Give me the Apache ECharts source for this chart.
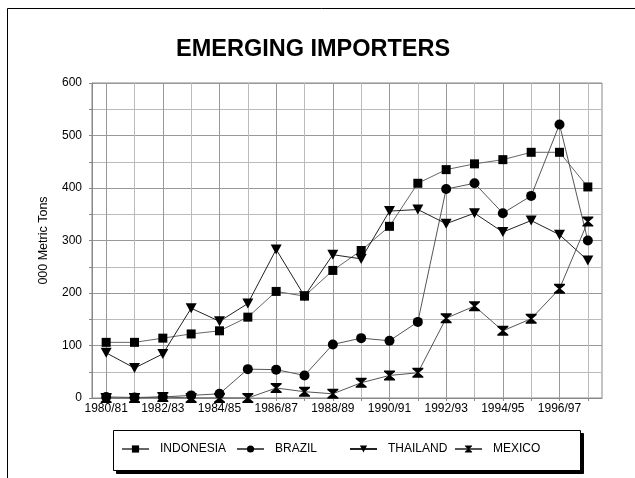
<!DOCTYPE html>
<html>
<head>
<meta charset="utf-8">
<script src="https://cdn.jsdelivr.net/npm/echarts@6/dist/echarts.min.js"></script>
<style>
html,body{margin:0;padding:0;background:#fff;}
#chart{width:635px;height:478px;}
</style>
</head>
<body>
<div id="chart"></div>
<script>
var categories = ['1980/81','1981/82','1982/83','1983/84','1984/85','1985/86','1986/87','1987/88','1988/89','1989/90','1990/91','1991/92','1992/93','1993/94','1994/95','1995/96','1996/97','1997/98'];
var indonesia = [106,106,114,122,128,154,203,194,243,281,327,409,435,446,454,468,468,402];
var brazil    = [2,1,2,5,8,55,54,43,102,114,109,145,398,409,352,385,521,300];
var thailand  = [86,57,84,171,146,180,283,194,273,265,356,359,332,352,316,338,311,262];
var mexico    = [0,0,2,0,0,0,19,12,8,29,43,48,152,175,128,151,208,336];
var seriesNames = ['INDONESIA','BRAZIL','THAILAND','MEXICO'];
var yTicks = [0,100,200,300,400,500,600];

var FONT = '"Liberation Sans", Arial, sans-serif';
var triDown = 'path://M0,0 L10,0 L5,9 Z';
var hourglass = 'path://M0,0 L10,0 L10,1.2 L6,5 L10,8.8 L10,10 L0,10 L0,8.8 L4,5 L0,1.2 Z';
var legendLefts = [121, 236, 349, 454];

function mk(name, data, symbol, size, lineColor) {
  return {
    name: name, type: 'line', data: data,
    symbol: symbol, symbolSize: size, showAllSymbol: true,
    lineStyle: {color: lineColor, width: 1},
    itemStyle: {color: '#000'},
    emphasis: {disabled: true},
    animation: false
  };
}

var legends = seriesNames.map(function(n, i){
  return {
    data: [n], left: legendLefts[i], top: 443, padding: 0,
    itemWidth: 27, itemHeight: 9,
    selectedMode: false,
    textStyle: {fontFamily: FONT, fontSize: 12, color: '#000', padding: [0, 0, 0, 6]}
  };
});

var chart = echarts.init(document.getElementById('chart'));
chart.setOption({
  animation: false,
  backgroundColor: '#fff',
  graphic: [{
    type: 'rect', shape: {x: 7.5, y: 8.5, width: 700, height: 600},
    style: {fill: 'none', stroke: '#000', lineWidth: 1}, z: -1, silent: true
  }, {
    type: 'rect', shape: {x: 116.5, y: 433.5, width: 467, height: 40},
    style: {fill: '#000', stroke: '#000', lineWidth: 1}, z: 0, silent: true
  }, {
    type: 'rect', shape: {x: 113.5, y: 430.5, width: 467, height: 40},
    style: {fill: '#fff', stroke: '#000', lineWidth: 1}, z: 1, silent: true
  }],
  title: {
    text: 'EMERGING IMPORTERS',
    left: 171, top: 33,
    textStyle: {fontFamily: FONT, fontSize: 23.5, fontWeight: 'bold', color: '#000'}
  },
  grid: {left: 92, right: 33, top: 83, bottom: 80, show: true, borderColor: '#888', borderWidth: 1, backgroundColor: '#fff'},
  legend: legends,
  xAxis: {
    type: 'category', data: categories, boundaryGap: true,
    axisLine: {show: true, lineStyle: {color: '#888'}},
    axisTick: {show: true, alignWithLabel: true, interval: 0, length: 3, lineStyle: {color: '#888'}},
    axisLabel: {interval: 1, fontFamily: FONT, fontSize: 12, color: '#000', margin: 5},
    splitLine: {show: true, alignWithLabel: true, interval: 0, lineStyle: {color: ['#999','#bbb'], width: 1}}
  },
  yAxis: {
    type: 'value', min: 0, max: 600, interval: 50,
    name: '000 Metric Tons', nameLocation: 'middle', nameGap: 42, nameRotate: 90,
    nameTextStyle: {fontFamily: FONT, fontSize: 12.5, color: '#000'},
    axisLine: {show: true, lineStyle: {color: '#888'}},
    axisTick: {show: true, length: 3, lineStyle: {color: '#888'}},
    axisLabel: {
      fontFamily: FONT, fontSize: 12, color: '#000', margin: 10,
      formatter: function(v){ return yTicks.indexOf(v) >= 0 ? String(v) : ''; }
    },
    splitLine: {show: true, lineStyle: {color: ['#999','#bbb'], width: 1}}
  },
  series: [
    mk('INDONESIA', indonesia, 'rect', 9, '#666'),
    mk('BRAZIL', brazil, 'circle', 10, '#555'),
    mk('THAILAND', thailand, triDown, [11, 10], '#222'),
    mk('MEXICO', mexico, hourglass, [11, 10], '#555')
  ]
});
</script>
</body>
</html>
